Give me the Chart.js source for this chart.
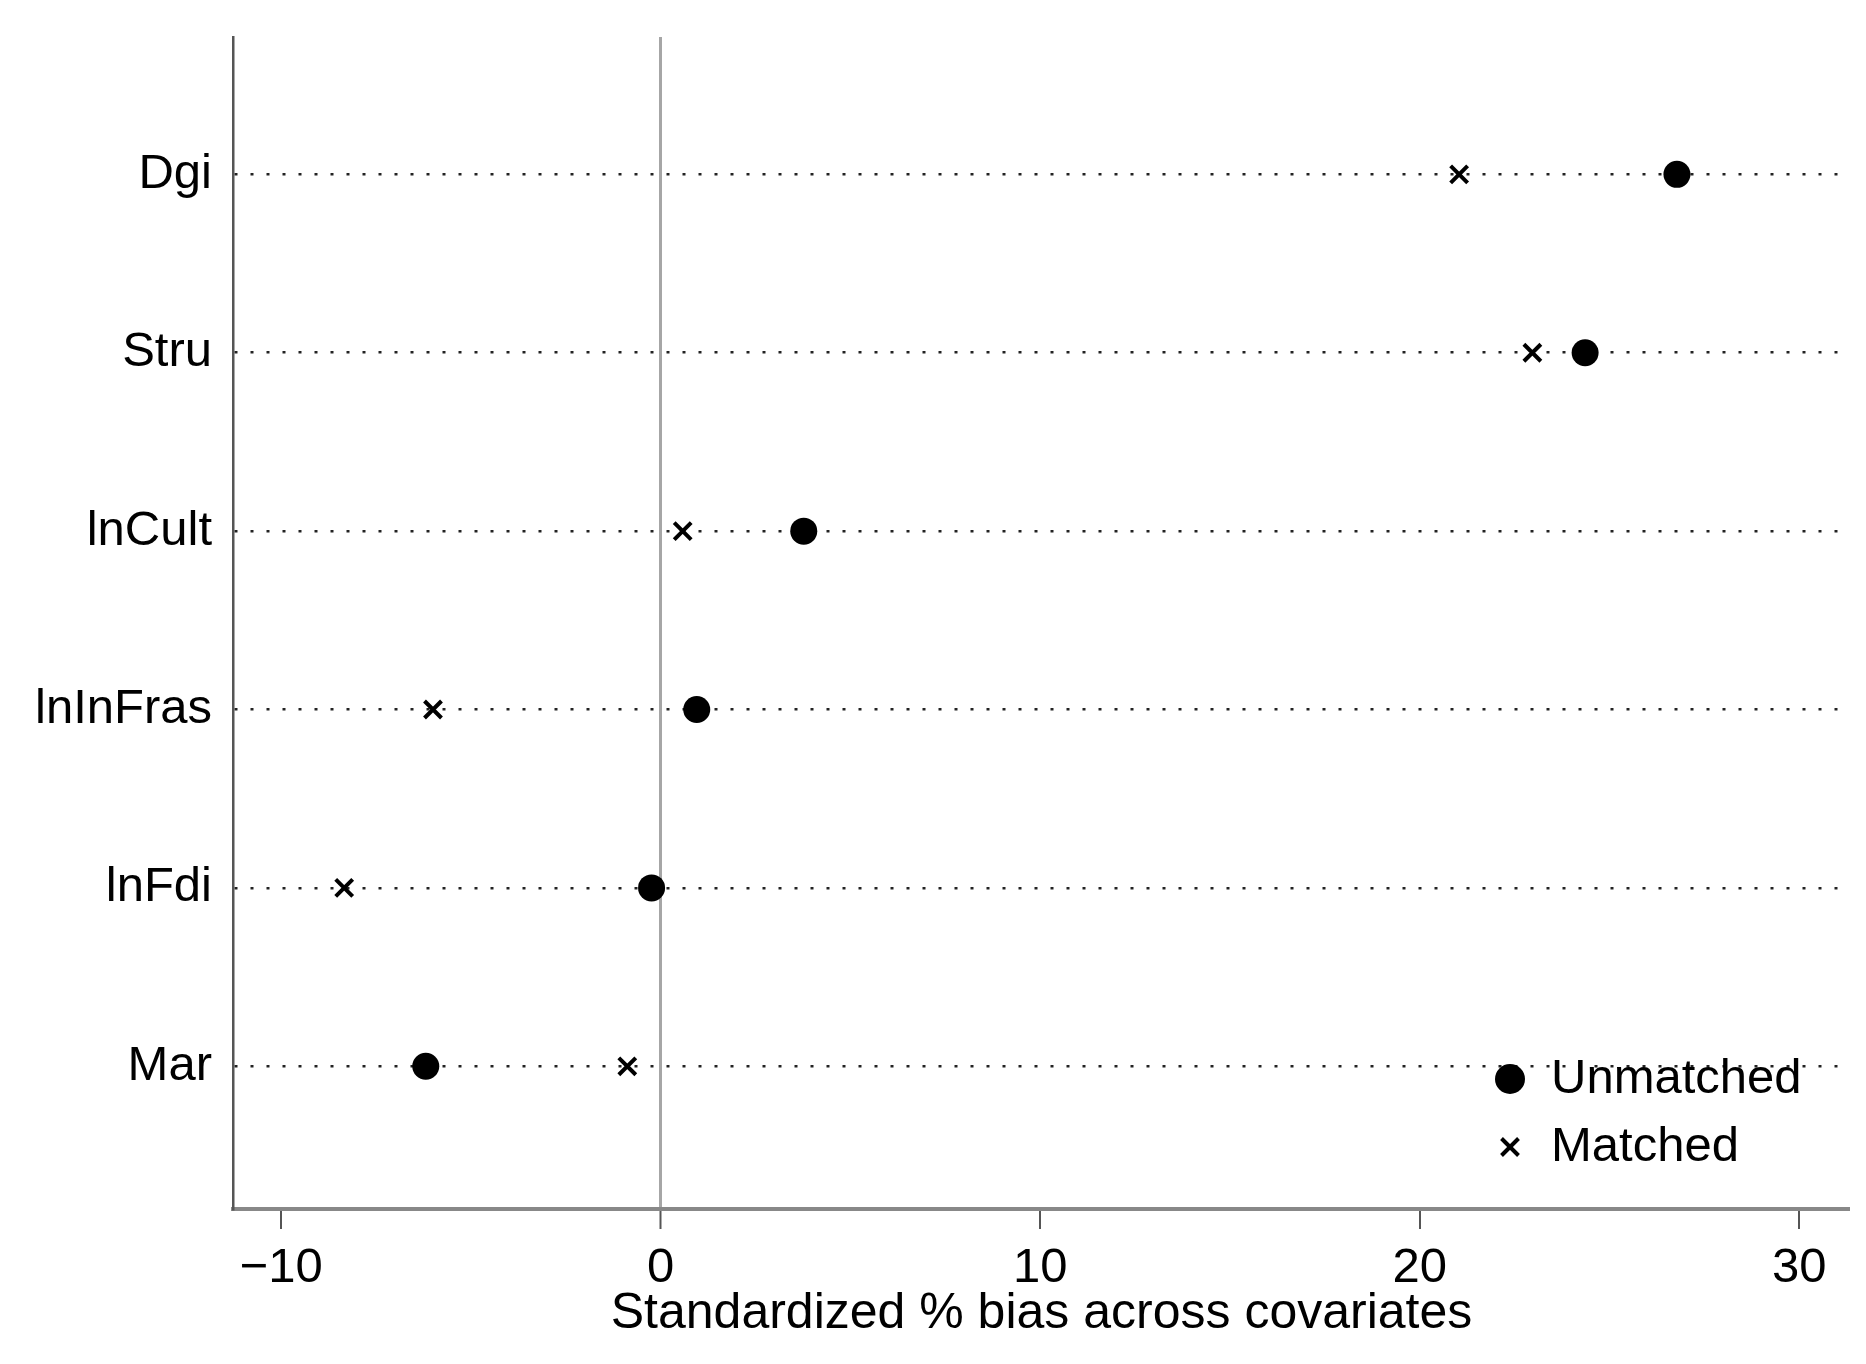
<!DOCTYPE html>
<html><head><meta charset="utf-8">
<script src="https://cdn.jsdelivr.net/npm/chart.js@4.4.1/dist/chart.umd.min.js"></script>
<style>html,body{margin:0;padding:0;background:#fff;} #wrap{width:1866px;height:1364px;}</style>
</head><body><div id="wrap"><canvas id="c" width="1866" height="1364"></canvas></div>
<script>
const categories = ['Dgi', 'Stru', 'lnCult', 'lnInFras', 'lnFdi', 'Mar'];
const unmatched = [26.78, 24.36, 3.77, 0.95, -0.24, -6.19];
const matched = [21.04, 22.97, 0.58, -6.0, -8.34, -0.88];
const xTickValues = [-10, 0, 10, 20, 30];
const seriesLabels = ['Unmatched', 'Matched'];
const xTitle = 'Standardized % bias across covariates';

const family = '"Liberation Sans", Arial, sans-serif';

const legendPlugin = {
  id: 'insideLegend',
  afterDraw(chart) {
    const {ctx, chartArea} = chart;
    ctx.save();
    chart.data.datasets.forEach((ds, i) => {
      const mx = chartArea.right - 340;
      const my = chartArea.bottom - 130 + i * 68;
      ctx.fillStyle = '#000';
      ctx.strokeStyle = '#000';
      ctx.lineWidth = ds.borderWidth;
      Chart.helpers.drawPoint(ctx, {pointStyle: ds.pointStyle, radius: ds.legendRadius, borderWidth: ds.borderWidth, rotation: 0}, mx, my);
      ctx.font = '49px ' + family;
      ctx.textBaseline = 'middle';
      ctx.textAlign = 'left';
      ctx.fillStyle = '#000';
      ctx.fillText(ds.label, mx + 41, my);
    });
    ctx.restore();
  }
};

new Chart(document.getElementById('c'), {
  type: 'scatter',
  data: {
    datasets: [
      {
        label: seriesLabels[0],
        data: categories.map((c, i) => ({x: unmatched[i], y: i + 1})),
        pointStyle: 'circle', pointRadius: 13.5, backgroundColor: '#000', borderColor: '#000', borderWidth: 0,
        legendRadius: 15
      },
      {
        label: seriesLabels[1],
        data: categories.map((c, i) => ({x: matched[i], y: i + 1})),
        pointStyle: 'crossRot', pointRadius: 12, backgroundColor: '#000', borderColor: '#000', borderWidth: 4,
        legendRadius: 12
      }
    ]
  },
  options: {
    responsive: false, animation: false, devicePixelRatio: 1,
    layout: {padding: {left: 0, right: 15, top: 37, bottom: 0}},
    plugins: {legend: {display: false}, tooltip: {enabled: false}},
    scales: {
      x: {
        type: 'linear', min: -11.27, max: 31.34,
        afterBuildTicks: s => { s.ticks = xTickValues.map(v => ({value: v})); },
        afterFit: s => { s.height = 155; s.paddingLeft = 0; s.paddingRight = 0; },
        grid: {
          color: c => (c.tick && c.tick.value === 0) ? '#a6a6a6' : 'rgba(0,0,0,0)',
          lineWidth: c => (c.tick && c.tick.value === 0) ? 3 : 0,
          tickColor: '#555', tickWidth: 2, tickLength: 20, drawOnChartArea: true
        },
        border: {color: '#888', width: 4},
        ticks: {color: '#000', font: {family, size: 49}, padding: 10, maxRotation: 0, autoSkip: false,
          callback: v => String(v).replace('-', '\u2212')},
        title: {display: true, text: xTitle, color: '#000', font: {family, size: 50}, padding: {top: 0, bottom: 20}}
      },
      y: {
        type: 'linear', reverse: true, min: 0.23, max: 6.8,
        afterBuildTicks: s => { s.ticks = categories.map((c, i) => ({value: i + 1})); },
        afterFit: s => { s.width = 233; s.paddingTop = 0; s.paddingBottom = 0; },
        grid: {color: '#222', lineWidth: 2.5, drawTicks: false},
        border: {color: '#555', width: 2.5, dash: [3, 13]},
        ticks: {padding: 21, color: '#000', font: {family, size: 49}, autoSkip: false,
          callback: v => categories[v - 1]}
      }
    }
  },
  plugins: [legendPlugin]
});
</script>
</body></html>
